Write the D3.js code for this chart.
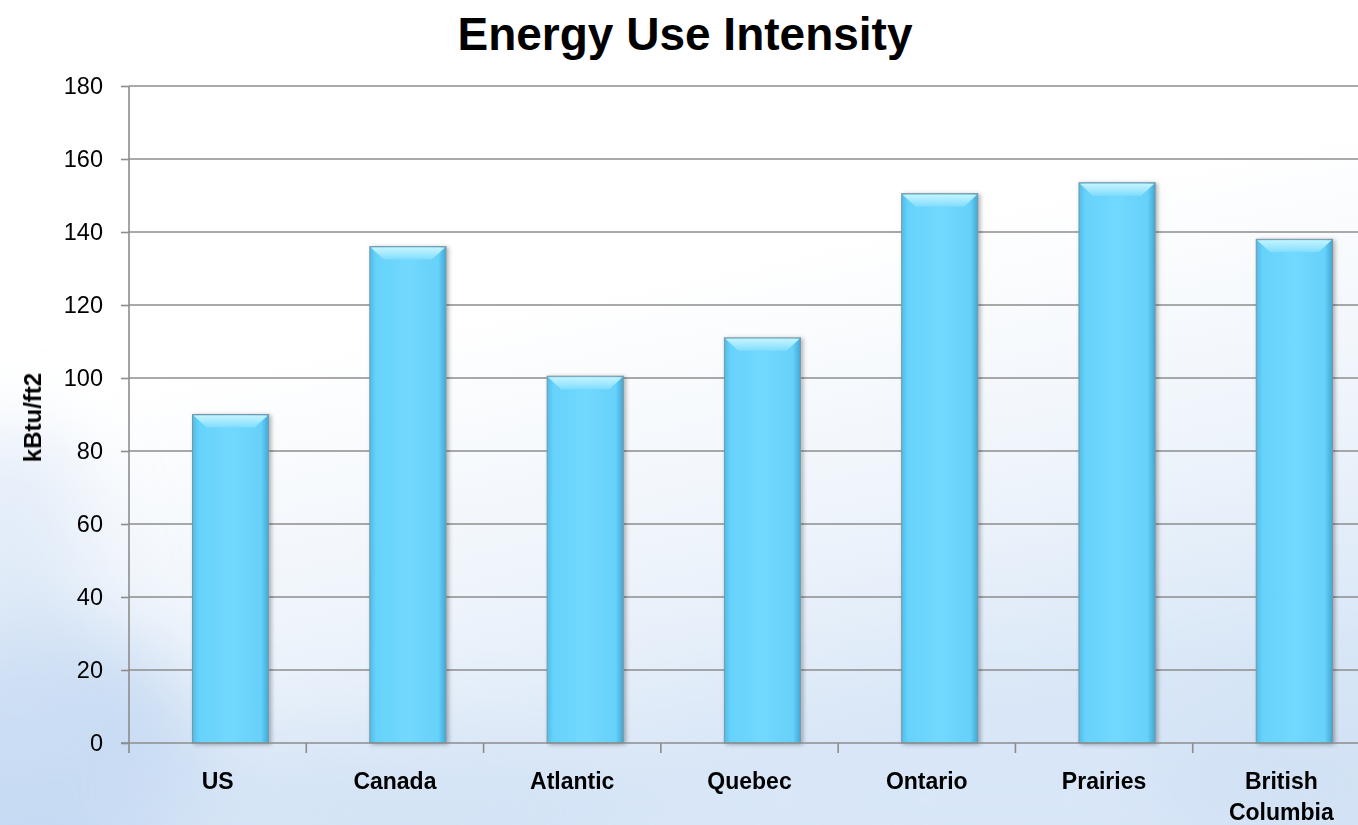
<!DOCTYPE html>
<html>
<head>
<meta charset="utf-8">
<script src="https://cdn.jsdelivr.net/npm/d3@7"></script>
<style>
  html, body { margin: 0; padding: 0; background: #fff; overflow: hidden; }
  svg { display: block; }
</style>
</head>
<body>
<svg id="chart" width="1358" height="825"></svg>
<script>
// Energy use intensity by region (kBtu/ft2)
const categories = ["US", "Canada", "Atlantic", "Quebec", "Ontario", "Prairies", "British Columbia"];
const values = [90, 136, 100.5, 111, 150.5, 153.5, 138];
const yTicks = [0, 20, 40, 60, 80, 100, 120, 140, 160, 180];
const titleText = "Energy Use Intensity";
const yLabel = "kBtu/ft2";

const W = 1358, H = 825;
const margin = { left: 129, right: -12, top: 86, bottom: 82 };
const svg = d3.select("#chart");
const defs = svg.append("defs");
const FONT = "Liberation Sans, Arial, sans-serif";

// soft sky backdrop
const bg = defs.append("linearGradient").attr("id", "bg").attr("x1", 0).attr("y1", 0).attr("x2", 0.35).attr("y2", 1);
bg.append("stop").attr("offset", "0").attr("stop-color", "#ffffff");
bg.append("stop").attr("offset", "0.45").attr("stop-color", "#ffffff");
bg.append("stop").attr("offset", "0.75").attr("stop-color", "#eef4fb");
bg.append("stop").attr("offset", "1").attr("stop-color", "#d9e7f7");
svg.append("rect").attr("width", W).attr("height", H).attr("fill", "url(#bg)");

const blur = defs.append("filter").attr("id", "cloudBlur").attr("x", "-50%").attr("y", "-50%").attr("width", "200%").attr("height", "200%");
blur.append("feGaussianBlur").attr("stdDeviation", 40);
const clouds = svg.append("g").attr("filter", "url(#cloudBlur)");
clouds.append("ellipse").attr("cx", 40).attr("cy", 770).attr("rx", 170).attr("ry", 150).attr("fill", "#bfd6f1").attr("opacity", 0.8);
clouds.append("ellipse").attr("cx", 10).attr("cy", 580).attr("rx", 80).attr("ry", 160).attr("fill", "#d3e3f5").attr("opacity", 0.6);
clouds.append("ellipse").attr("cx", 380).attr("cy", 810).attr("rx", 260).attr("ry", 70).attr("fill", "#d2e2f5").attr("opacity", 0.8);
clouds.append("ellipse").attr("cx", 1000).attr("cy", 800).attr("rx", 380).attr("ry", 80).attr("fill", "#d8e6f7").attr("opacity", 0.8);
clouds.append("ellipse").attr("cx", 1300).attr("cy", 780).attr("rx", 150).attr("ry", 90).attr("fill", "#cfdff4").attr("opacity", 0.7);

const x0 = margin.left, x1 = W - margin.right;
const yTop = margin.top, yBot = H - margin.bottom;

const x = d3.scaleBand().domain(categories).range([x0, x1]).paddingInner(0).paddingOuter(0);
const y = d3.scaleLinear().domain([0, 180]).range([yBot, yTop]);

// gridlines
svg.append("g").selectAll("line").data(yTicks.filter(d => d > 0)).join("line")
  .attr("x1", x0).attr("x2", x1)
  .attr("y1", d => y(d)).attr("y2", d => y(d))
  .attr("stroke", "#8c8c8c").attr("stroke-width", 1.6);

// bar styling
const side = defs.append("linearGradient").attr("id", "barSide").attr("x1", 0).attr("x2", 1).attr("y1", 0).attr("y2", 0);
[["0", "#4cbde8"], ["0.08", "#66d2fb"], ["0.5", "#72d8fe"], ["0.9", "#66d1fa"], ["1", "#3fa8d4"]]
  .forEach(([o, c]) => side.append("stop").attr("offset", o).attr("stop-color", c));
const topG = defs.append("linearGradient").attr("id", "barTop").attr("x1", 0).attr("x2", 0).attr("y1", 0).attr("y2", 1);
[["0", "#c4f3ff"], ["0.5", "#a3e9ff"], ["1", "#80dcfd"]]
  .forEach(([o, c]) => topG.append("stop").attr("offset", o).attr("stop-color", c));
const shadow = defs.append("filter").attr("id", "barShadow").attr("x", "-20%").attr("y", "-20%").attr("width", "140%").attr("height", "140%");
shadow.append("feDropShadow").attr("dx", 2).attr("dy", 1).attr("stdDeviation", 2).attr("flood-color", "#000").attr("flood-opacity", 0.3);

const barW = x.bandwidth() * 0.43;
const shift = 13;
const bars = svg.append("g").selectAll("g").data(categories.map((c, i) => ({ c, v: values[i] }))).join("g");
const bx = d => x(d.c) + x.bandwidth() / 2 + shift - barW / 2;

bars.append("rect")
  .attr("x", bx).attr("y", d => y(d.v))
  .attr("width", barW).attr("height", d => y(0) - y(d.v))
  .attr("fill", "url(#barSide)")
  .attr("stroke", "#7f95a0").attr("stroke-width", 1)
  .attr("filter", "url(#barShadow)");
bars.append("path")
  .attr("d", d => {
    const l = bx(d) + 1, r = bx(d) + barW - 1, t = y(d.v) + 1, b = t + 12;
    return `M${l},${t}L${r},${t}L${r - 13},${b}L${l + 13},${b}Z`;
  })
  .attr("fill", "url(#barTop)");

// axes
svg.append("line").attr("x1", x0).attr("x2", x0).attr("y1", yTop).attr("y2", yBot + 10)
  .attr("stroke", "#8c8c8c").attr("stroke-width", 1.6);
svg.append("line").attr("x1", x0 - 8).attr("x2", x1).attr("y1", yBot).attr("y2", yBot)
  .attr("stroke", "#8c8c8c").attr("stroke-width", 1.6);

const yAxis = svg.append("g").attr("transform", `translate(${x0},0)`)
  .call(d3.axisLeft(y).tickValues(yTicks).tickSize(8).tickPadding(18));
yAxis.select(".domain").remove();
yAxis.selectAll(".tick line").attr("stroke", "#8c8c8c").attr("stroke-width", 1.6);
yAxis.selectAll(".tick text").attr("font-family", FONT)
  .attr("font-size", 23.5).attr("fill", "#000");

// category ticks at band boundaries
svg.append("g").selectAll("line").data(categories.slice(1)).join("line")
  .attr("x1", d => x(d)).attr("x2", d => x(d))
  .attr("y1", yBot).attr("y2", yBot + 10)
  .attr("stroke", "#8c8c8c").attr("stroke-width", 1.6);

// category labels
const labels = svg.append("g").selectAll("text").data(categories).join("text")
  .attr("x", d => x(d) + x.bandwidth() / 2)
  .attr("y", yBot + 46)
  .attr("text-anchor", "middle")
  .attr("font-family", FONT)
  .attr("font-weight", "bold").attr("font-size", 23).attr("fill", "#000");
labels.each(function (d) {
  const words = d.split(" ");
  const t = d3.select(this);
  if (words.length > 1) {
    t.append("tspan").attr("x", x(d) + x.bandwidth() / 2).attr("dy", 0).text(words[0]);
    t.append("tspan").attr("x", x(d) + x.bandwidth() / 2).attr("dy", 31).text(words.slice(1).join(" "));
  } else {
    t.text(d);
  }
});

// y-axis title
svg.append("text")
  .attr("transform", `translate(41,${(yTop + yBot) / 2 + 3}) rotate(-90)`)
  .attr("text-anchor", "middle")
  .attr("font-family", FONT)
  .attr("font-weight", "bold").attr("font-size", 24).text(yLabel);

// chart title
svg.append("text")
  .attr("x", 685).attr("y", 50)
  .attr("text-anchor", "middle")
  .attr("font-family", FONT)
  .attr("font-weight", "bold").attr("font-size", 46).text(titleText);
</script>
</body>
</html>
